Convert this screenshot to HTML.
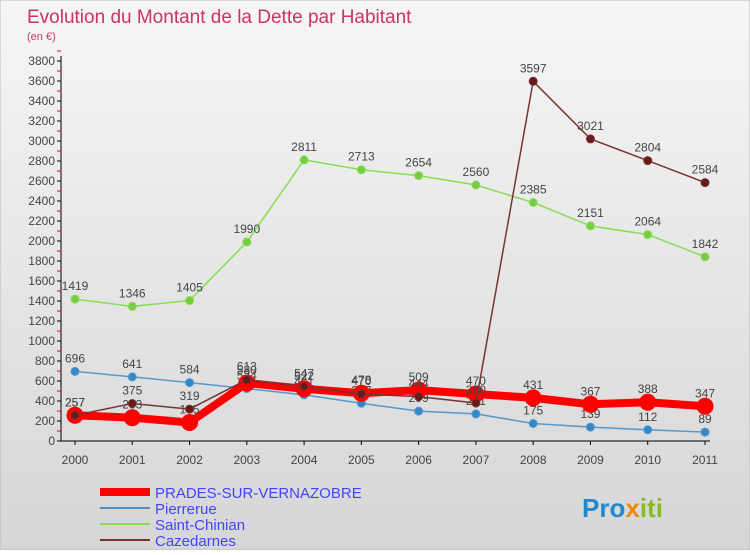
<!DOCTYPE html>
<html><head><meta charset="utf-8"><style>
body{margin:0;width:750px;height:550px;overflow:hidden;font-family:"Liberation Sans",sans-serif}
svg text{font-family:"Liberation Sans",sans-serif}
</style></head><body>
<svg id="c" width="750" height="550">
<defs><linearGradient id="bg" x1="0" y1="0" x2="0" y2="1"><stop offset="0" stop-color="#f6f6f6"/><stop offset="1" stop-color="#d6d6d6"/></linearGradient></defs>
<rect x="0" y="0" width="750" height="550" fill="url(#bg)" stroke="#bbb"/>
<text x="27" y="23" font-size="19" fill="#cc3366">Evolution du Montant de la Dette par Habitant</text>
<text x="27" y="40" font-size="11" fill="#cc3366">(en €)</text>
<g id="axes"></g><g id="series"></g>
<g>
<line x1="100" y1="492" x2="150" y2="492" stroke="#f00" stroke-width="8"/>
<text x="155" y="498" font-size="15" fill="#4444ff">PRADES-SUR-VERNAZOBRE</text>
<line x1="100" y1="508" x2="150" y2="508" stroke="#4a90c8" stroke-width="2"/>
<text x="155" y="514" font-size="15" fill="#4444ff">Pierrerue</text>
<line x1="100" y1="524" x2="150" y2="524" stroke="#88dd55" stroke-width="2"/>
<text x="155" y="530" font-size="15" fill="#4444ff">Saint-Chinian</text>
<line x1="100" y1="540" x2="150" y2="540" stroke="#773333" stroke-width="2"/>
<text x="155" y="546" font-size="15" fill="#4444ff">Cazedarnes</text>
</g>
<text x="582" y="517" font-size="26" font-weight="bold"><tspan fill="#2288cc">Pro</tspan><tspan fill="#ee8800">x</tspan><tspan fill="#88bb22">iti</tspan></text>
</svg>
<script>
const years=["2000","2001","2002","2003","2004","2005","2006","2007","2008","2009","2010","2011"];
const yTicks=[0,200,400,600,800,1000,1200,1400,1600,1800,2000,2200,2400,2600,2800,3000,3200,3400,3600,3800];
const prades=[257,233,185,580,522,478,509,470,431,367,388,347];
const pierrerue=[696,641,584,524,461,377,299,271,175,139,112,89];
const saintChinian=[1419,1346,1405,1990,2811,2713,2654,2560,2385,2151,2064,1842];
const cazedarnes=[257,375,319,613,547,470,444,380,3597,3021,2804,2584];
const NS="http://www.w3.org/2000/svg";
const X=i=>75+i*(630/11), Y=v=>441-v*0.1;
function mk(t,a,p){const e=document.createElementNS(NS,t);for(const k in a)e.setAttribute(k,a[k]);p.appendChild(e);return e;}
const ax=document.getElementById('axes');
const yl=mk('line',{x1:61,y1:Y(0),x2:61,y2:Y(3800)-5,stroke:'#000'},ax);


const xl=mk('line',{x1:61,y1:Y(0),x2:710,y2:Y(0),stroke:'#000'},ax);


yTicks.forEach(v=>{
 mk('line',{x1:57,y1:Y(v),x2:61,y2:Y(v),stroke:'#000'},ax);
 mk('line',{x1:57,y1:Y(v+100),x2:61,y2:Y(v+100),stroke:'#f00'},ax);
 const t=mk('text',{x:55,y:Y(v)+4,'font-size':12,'text-anchor':'end',fill:'#444'},ax);t.textContent=v;
 
 
});
years.forEach((y,i)=>{
 mk('line',{x1:X(i),y1:Y(0),x2:X(i),y2:Y(0)+4,stroke:'#000'},ax);
 const t=mk('text',{x:X(i),y:Y(0)+23,'font-size':12,'text-anchor':'middle',fill:'#444'},ax);t.textContent=y;
 
 
});
const sg=document.getElementById('series');
function series(d,name,col,w,r,dot){
 const g=mk('g',{},sg);
 
 
 mk('polyline',{points:d.map((v,i)=>X(i)+','+Y(v)).join(' '),fill:'none',stroke:col,'stroke-width':w,'stroke-linejoin':'round'},g);
 d.forEach((v,i)=>{
  const c=mk('circle',{cx:X(i),cy:Y(v),r:r,fill:dot,stroke:col,'stroke-width':1},g);
  
  
  const t=mk('text',{x:X(i),y:Y(v)-9,'font-size':12,'text-anchor':'middle',fill:'#444'},g);t.textContent=v;
  
  
 });
}
series(saintChinian,'series-saint-chinian','#88dd55',1.5,4,'#77cc44');
series(pierrerue,'series-pierrerue','#5599cc',1.5,4,'#3388cc');
series(prades,'series-prades','#ff0000',8,8,'#ff0000');
series(cazedarnes,'series-cazedarnes','#773333',1.5,4,'#661a1a');
</script>
</body></html>
